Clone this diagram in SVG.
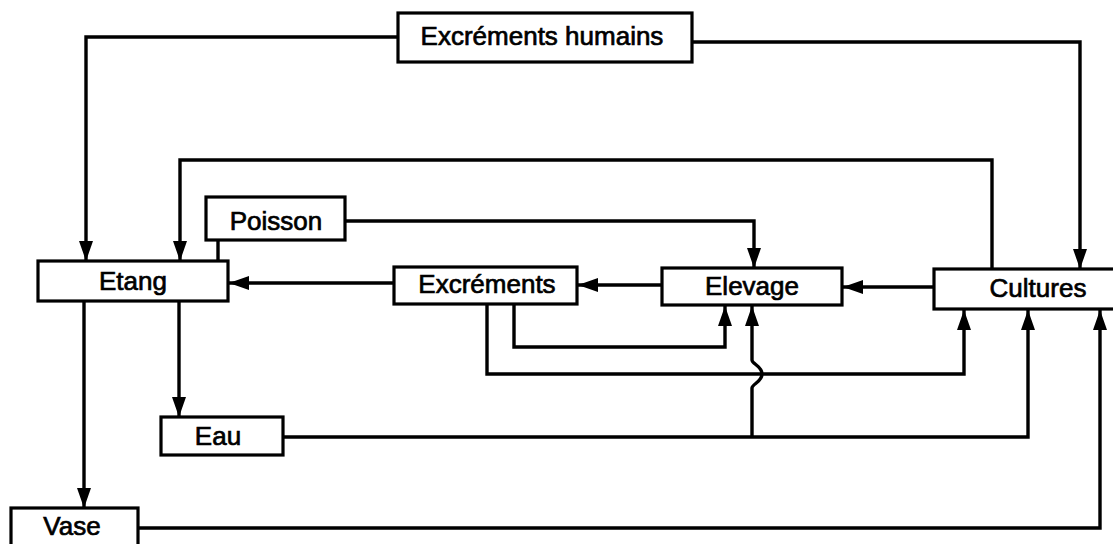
<svg xmlns="http://www.w3.org/2000/svg" width="1113" height="544" viewBox="0 0 1113 544">
<style>
.box{fill:#fff;stroke:#000;stroke-width:3.2}
.lbl{font-family:"Liberation Sans",Arial,Helvetica,sans-serif;font-size:26px;fill:#000;text-anchor:middle;stroke:#000;stroke-width:0.7}
.c{fill:none;stroke:#000;stroke-width:3.4}
</style>
<defs>
<marker id="ah" markerUnits="userSpaceOnUse" markerWidth="20" markerHeight="14" refX="20" refY="7" orient="auto" viewBox="0 0 20 14">
<path d="M0,0 L20,7 L0,14 z" fill="#000"/>
</marker>
</defs>
<rect width="1113" height="544" fill="#fff"/>
<g id="connectors">
<path class="c" d="M398,37 H86 V261" marker-end="url(#ah)"/>
<path class="c" d="M692,42 H1080 V269" marker-end="url(#ah)"/>
<path class="c" d="M992,269 V160 H180 V261" marker-end="url(#ah)"/>
<path class="c" d="M345,221 H754 V268" marker-end="url(#ah)"/>
<path class="c" d="M218,240 V261"/>
<path class="c" d="M394,283 H229" marker-end="url(#ah)"/>
<path class="c" d="M662,285 H578" marker-end="url(#ah)"/>
<path class="c" d="M934,287 H843" marker-end="url(#ah)"/>
<path class="c" d="M514,304 V347 H725 V306" marker-end="url(#ah)"/>
<path class="c" d="M487,304 V374 H964 V310" marker-end="url(#ah)"/>
<path class="c" d="M179,301 V417" marker-end="url(#ah)"/>
<path class="c" d="M84,301 V508" marker-end="url(#ah)"/>
<path class="c" d="M283,437 H1028 V310" marker-end="url(#ah)"/>
<path class="c" d="M752,437 V388 C752,384 762,382 762,374 C762,366 752,364 752,360 V306" marker-end="url(#ah)"/>
<path class="c" d="M138,528 H1100 V310" marker-end="url(#ah)"/>
</g>
<g id="excrements-humains"><rect class="box" x="398" y="13" width="294" height="49"/><text class="lbl" x="542" y="45">Excréments humains</text></g>
<g id="poisson"><rect class="box" x="206" y="197" width="139" height="43"/><text class="lbl" x="276" y="230">Poisson</text></g>
<g id="etang"><rect class="box" x="38" y="261" width="190" height="40"/><text class="lbl" x="133" y="290">Etang</text></g>
<g id="excrements"><rect class="box" x="394" y="267" width="183" height="37"/><text class="lbl" x="487" y="293">Excréments</text></g>
<g id="elevage"><rect class="box" x="662" y="268" width="180" height="37"/><text class="lbl" x="752" y="295">Elevage</text></g>
<g id="cultures"><rect class="box" x="934" y="269" width="184" height="40"/><text class="lbl" x="1038" y="297">Cultures</text></g>
<g id="eau"><rect class="box" x="161" y="417" width="122" height="38"/><text class="lbl" x="218" y="445">Eau</text></g>
<g id="vase"><rect class="box" x="11" y="508" width="127" height="42"/><text class="lbl" x="72" y="535">Vase</text></g>
</svg>
